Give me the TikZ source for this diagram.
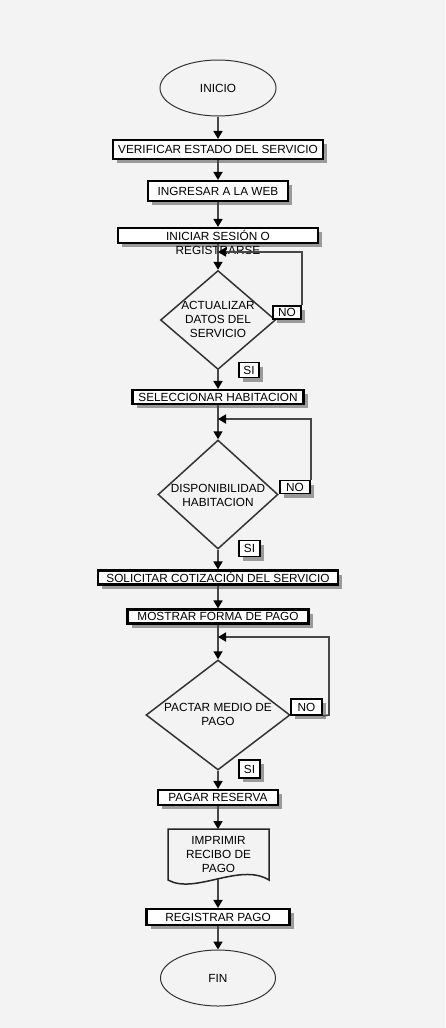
\documentclass[tikz,border=0pt]{standalone}
\usepackage{fontspec}
\setmainfont{Liberation Sans}
\usetikzlibrary{shapes.geometric,arrows.meta,shadows}
\definecolor{bg}{HTML}{F3F3F3}
\definecolor{ln}{HTML}{474747}
\definecolor{sh}{HTML}{9A9A9A}
\begin{document}
\begin{tikzpicture}[x=1pt,y=-1pt,
  font=\fontsize{11.8}{14}\selectfont,
  box/.style={draw=black, line width=2.1pt, fill=white, inner sep=0pt,
    drop shadow={shadow xshift=4pt, shadow yshift=-4pt, fill=sh, opacity=1}},
  tag/.style={box, line width=1.8pt},
  term/.style={ellipse, draw=black!80, line width=1pt, inner sep=0pt,
    minimum width=116pt, minimum height=56pt},
  dec/.style={diamond, draw=black!80, line width=1.5pt, inner sep=0pt},
  lbl/.style={align=center, inner sep=0pt},
  arr/.style={draw=ln, line width=1.7pt, -{Triangle[length=8pt,width=9pt,color=black]}},
  docline/.style={draw=black!85, line width=1.5pt}]
\fill[bg] (0,0) rectangle (445,1028);
\useasboundingbox (0,0) rectangle (445,1028);

% main column
\node[term] (inicio) at (218,88) {INICIO};
\node[box, minimum width=210pt, minimum height=19pt] (verif) at (218,149.5) {VERIFICAR ESTADO DEL SERVICIO};
\node[box, minimum width=140pt, minimum height=20pt] (ingresar) at (218,191) {INGRESAR A LA WEB};
\node[box, minimum width=200pt, minimum height=15pt] (iniciar) at (218,235.5) {};
\node[lbl] (iniciarT) at (218,242) {INICIAR SESIÓN O\\REGISTRARSE};

\node[dec, minimum width=115pt, minimum height=99pt] (d1) at (218,320) {};
\node[lbl] (d1T) at (218,319) {ACTUALIZAR\\DATOS DEL\\SERVICIO};
\node[tag, minimum width=28pt, minimum height=13pt] (no1) at (287,312.5) {NO};
\node[tag, minimum width=20pt, minimum height=15pt] (si1) at (249,370) {SI};

\node[box, minimum width=171pt, minimum height=14pt] (selec) at (218,397) {SELECCIONAR HABITACION};

\node[dec, minimum width=120pt, minimum height=109pt] (d2) at (218,494.5) {};
\node[lbl] (d2T) at (218,495) {DISPONIBILIDAD\\HABITACION};
\node[tag, minimum width=30pt, minimum height=13pt] (no2) at (295,487) {NO};
\node[tag, minimum width=21pt, minimum height=16pt] (si2) at (249.5,548.5) {SI};

\node[box, minimum width=240pt, minimum height=14pt] (solic) at (218,577.5) {SOLICITAR COTIZACIÓN DEL SERVICIO};
\node[box, minimum width=181pt, minimum height=14pt] (mostrar) at (218,616.5) {MOSTRAR FORMA DE PAGO};

\node[dec, minimum width=144pt, minimum height=110pt] (d3) at (218,715) {};
\node[lbl] (d3T) at (218,714) {PACTAR MEDIO DE\\PAGO};
\node[tag, minimum width=31pt, minimum height=16pt] (no3) at (306.5,707) {NO};
\node[tag, minimum width=21pt, minimum height=18pt] (si3) at (249.5,769) {SI};

\node[box, minimum width=120pt, minimum height=15pt] (pagar) at (218,797.5) {PAGAR RESERVA};

% document shape
\draw[docline] (168,829) -- (269,829) -- (269,880)
  .. controls (240,862) and (195,895) .. (168,880) -- cycle;
\node[lbl] (doc) at (218.5,854.5) {IMPRIMIR\\RECIBO DE\\PAGO};
\coordinate (doctop) at (218,829);
\coordinate (docbot) at (218,879);

\node[box, minimum width=143pt, minimum height=16pt] (registrar) at (218,917) {REGISTRAR PAGO};
\node[term, minimum width=115pt] (fin) at (218,978) {FIN};

% connectors
\draw[arr] (inicio) -- (verif);
\draw[arr] (verif) -- (ingresar);
\draw[arr] (ingresar) -- (iniciar);
\draw[arr] (iniciar) -- (d1);
\draw[arr] (d1) -- (selec);
\draw[arr] (selec) -- (d2);
\draw[arr] (d2) -- (solic);
\draw[arr] (solic) -- (mostrar);
\draw[arr] (mostrar) -- (d3);
\draw[arr] (d3) -- (pagar);
\draw[arr] (pagar) -- (doctop);
\draw[arr] (docbot) -- (registrar);
\draw[arr] (registrar) -- (fin);

% loops
\coordinate (l1) at (218,252);
\coordinate (l2) at (218,419);
\coordinate (l3) at (218,637);
\coordinate (c3) at (329,715);
\draw[arr] (no1.north east) |- (l1);
\draw[arr] (no2.north east) |- (l2);
\draw[arr] (no3.south east) -- (c3) |- (l3);
\end{tikzpicture}
\end{document}
